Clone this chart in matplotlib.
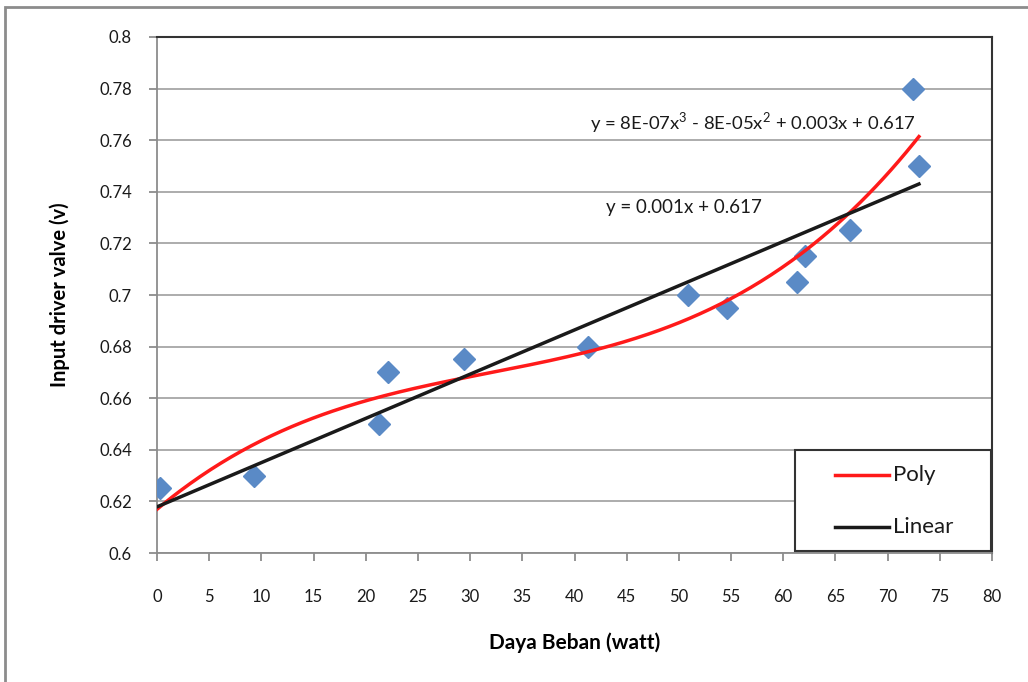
import numpy as np
import matplotlib
matplotlib.use("Agg")
import matplotlib.pyplot as plt
from matplotlib.patches import Rectangle
from matplotlib.lines import Line2D

# Data
daya_beban = [0.3, 9.3, 21.3, 22.1, 29.4, 41.3, 50.9, 54.6, 61.3, 62.1, 66.4, 72.4, 73.0]
input_valve = [0.625, 0.63, 0.65, 0.67, 0.675, 0.68, 0.70, 0.695, 0.705, 0.715, 0.725, 0.78, 0.75]
x_ticks = list(range(0, 85, 5))
y_ticks = [0.6, 0.62, 0.64, 0.66, 0.68, 0.7, 0.72, 0.74, 0.76, 0.78, 0.8]
poly_label = "y = 8E-07x$^3$ - 8E-05x$^2$ + 0.003x + 0.617"
lin_label = "y = 0.001x + 0.617"
legend_labels = ['Poly', 'Linear']

plt.rcParams['font.family'] = ['Lato', 'DejaVu Sans']
plt.rcParams['mathtext.fontset'] = 'custom'
plt.rcParams['mathtext.rm'] = 'Lato'
W, H = 1028, 682
fig = plt.figure(figsize=(W / 100, H / 100), dpi=100)
ax = fig.add_axes([157 / W, 1 - 553 / H, (992 - 157) / W, (553 - 37) / H])

# chart area border
fig.patches.append(Rectangle((5 / W, -0.1), 1.2, 1 - 7 / H + 0.1, transform=fig.transFigure,
                             fill=False, edgecolor='#8c8c8c', linewidth=2))

x = np.array(daya_beban)
y = np.array(input_valve)
xs = np.linspace(x.min() - 0.3, x.max(), 300)
p3 = np.polyfit(x, y, 3)
p1 = np.polyfit(x, y, 1)

ax.set_xlim(0, 80)
ax.set_ylim(0.6, 0.8)
ax.set_yticks(y_ticks)
ax.set_yticklabels([f"{v:g}" for v in y_ticks])
ax.set_xticks(x_ticks)
ax.grid(axis='y', color='#a6a6a6', linewidth=1.3)
ax.set_axisbelow(True)

ax.plot(x, y, linestyle='none', marker='D', markersize=11, color='#5a8ac6', zorder=3)
ax.plot(xs, np.polyval(p3, xs), color='#ff1a1a', linewidth=2.5, zorder=4)
ax.plot(xs, np.polyval(p1, xs), color='#1a1a1a', linewidth=2.5, zorder=4)

for s in ['left', 'bottom']:
    ax.spines[s].set_color('#8c8c8c')
    ax.spines[s].set_linewidth(1.3)
for s in ['top', 'right']:
    ax.spines[s].set_color('#333333')
    ax.spines[s].set_linewidth(1.5)
ax.tick_params(axis='both', direction='out', length=6, width=1.3, color='#8c8c8c',
               labelsize=12, labelcolor='#1a1a1a')
ax.tick_params(axis='x', pad=20)
ax.tick_params(axis='y', pad=12)

ax.text(57.1, 0.7668, poly_label, ha='center', va='center', fontsize=13.3, color='#1a1a1a')
ax.text(50.5, 0.7338, lin_label, ha='center', va='center', fontsize=13.5, color='#1a1a1a')

ax.set_xlabel("Daya Beban (watt)", fontsize=15, fontweight='bold', labelpad=20)
ax.set_ylabel("Input driver valve (v)", fontsize=14.5, fontweight='bold', labelpad=21)

# legend box drawn in axes coordinates
ax.add_patch(Rectangle((0.764, 0.004), 0.235, 0.196, transform=ax.transAxes,
                       facecolor='white', edgecolor='#333333', linewidth=1.5, zorder=6))
for ly, col, lab in [(0.151, '#ff1a1a', legend_labels[0]), (0.050, '#1a1a1a', legend_labels[1])]:
    ax.add_line(Line2D([0.812, 0.877], [ly, ly], transform=ax.transAxes, color=col,
                       linewidth=2.5, zorder=7))
    ax.text(0.881, ly, lab, transform=ax.transAxes, ha='left', va='center',
            fontsize=16, color='#1a1a1a', zorder=7)

fig.savefig("out.png", dpi=100)
